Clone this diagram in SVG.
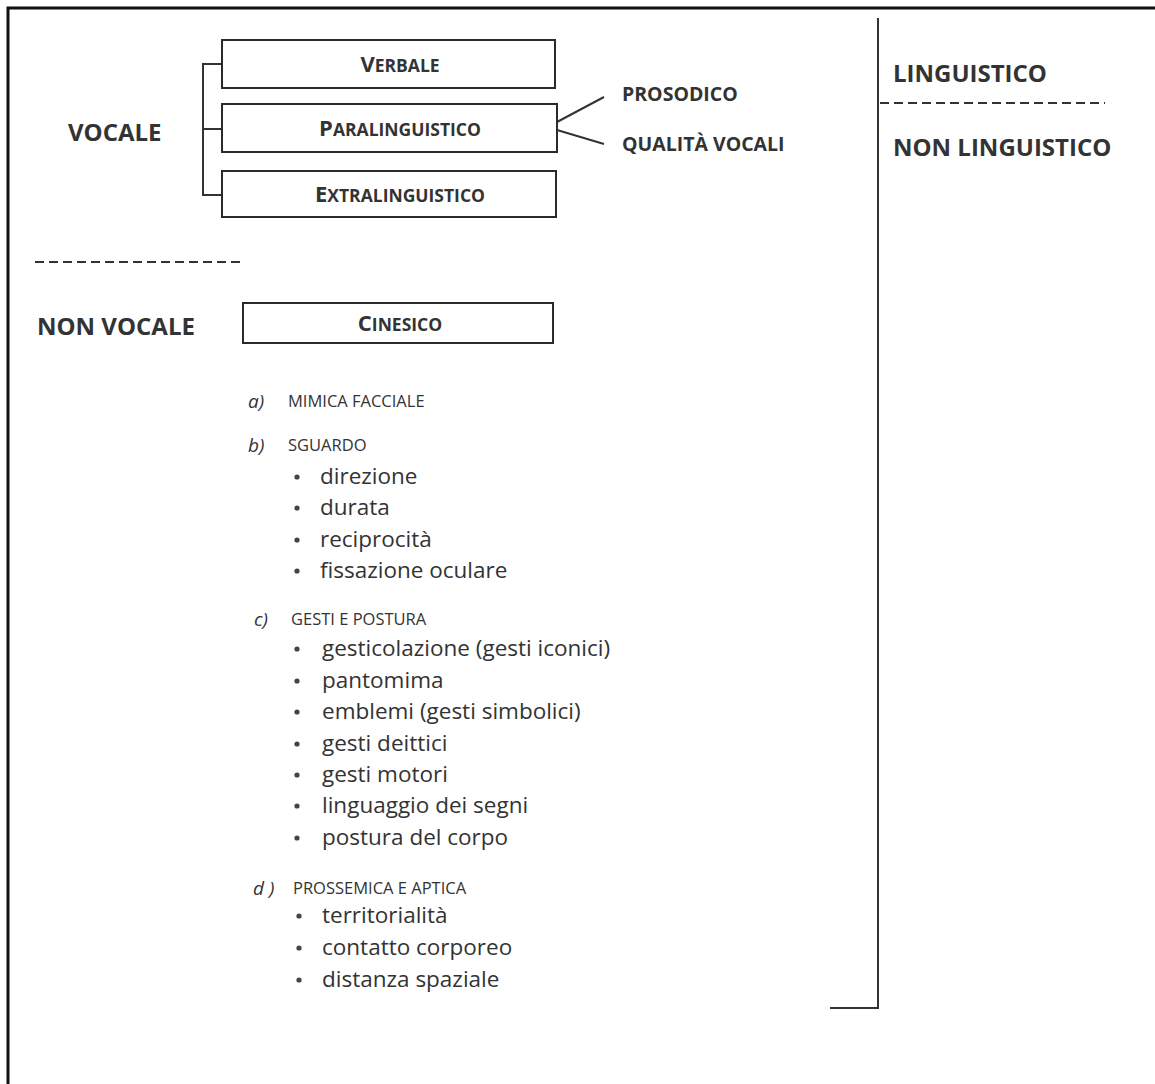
<svg xmlns="http://www.w3.org/2000/svg" width="1155" height="1084" viewBox="0 0 1155 1084">
<style>
.box{fill:#fff;stroke:#2a2a2a;stroke-width:2}
.ln{fill:none;stroke:#333;stroke-width:2}
.dash{fill:none;stroke:#333;stroke-width:2;stroke-dasharray:9 5}
.h{font-family:"Open Sans","Noto Sans",sans-serif;font-weight:700;fill:#333;font-size:24px}
.h2{font-family:"Open Sans","Noto Sans",sans-serif;font-weight:700;fill:#333;font-size:19.5px}
.sc{font-family:"Open Sans","Noto Sans",sans-serif;font-weight:700;fill:#333;font-size:17.5px;text-anchor:middle}
.sc .big{font-size:22px}
.lab{font-family:"Open Sans","Noto Sans",sans-serif;font-style:italic;fill:#333;font-size:19px}
.cap{font-family:"Open Sans","Noto Sans",sans-serif;fill:#333;font-size:16.5px}
.it{font-family:"Open Sans","Noto Sans",sans-serif;fill:#333;font-size:22.5px}
.dot{fill:#444}
</style>
<rect x="0" y="0" width="1155" height="1084" fill="#fff"/>
<path d="M8 1084 V8 H1155" fill="none" stroke="#111" stroke-width="3"/>

<g id="connectors">
  <path class="ln" d="M222 64 H203 V195 H222 M203 129 H222"/>
  <path class="ln" d="M557 122 L604 97 M557 130 L604 144"/>
  <path class="ln" d="M878 18 V1008 H830"/>
  <path class="dash" d="M880 103 H1105"/>
  <path class="dash" d="M35 262 H245"/>
</g>

<g id="vocale"><text class="h" x="68" y="141">VOCALE</text></g>
<g id="nonvocale"><text class="h" x="37" y="335">NON VOCALE</text></g>
<g id="linguistico"><text class="h" x="893" y="82">LINGUISTICO</text></g>
<g id="nonlinguistico"><text class="h" x="893" y="156">NON LINGUISTICO</text></g>

<g id="verbale"><rect class="box" x="222" y="40" width="333" height="48"/>
<text class="sc" x="400" y="72"><tspan class="big">V</tspan>ERBALE</text></g>
<g id="paralinguistico"><rect class="box" x="222" y="104" width="335" height="48"/>
<text class="sc" x="400" y="136"><tspan class="big">P</tspan>ARALINGUISTICO</text></g>
<g id="extralinguistico"><rect class="box" x="222" y="171" width="334" height="46"/>
<text class="sc" x="400" y="202"><tspan class="big">E</tspan>XTRALINGUISTICO</text></g>
<g id="cinesico"><rect class="box" x="243" y="303" width="310" height="40"/>
<text class="sc" x="400" y="331"><tspan class="big">C</tspan>INESICO</text></g>

<g id="prosodico"><text class="h2" x="622" y="101">PROSODICO</text></g>
<g id="qualita"><text class="h2" x="622" y="151">QUALITÀ VOCALI</text></g>

<g id="list">
  <text class="lab" x="248" y="408">a)</text>
  <text class="cap" x="288" y="407">MIMICA FACCIALE</text>
  <text class="lab" x="248" y="452">b)</text>
  <text class="cap" x="288" y="451">SGUARDO</text>
  <g class="dot">
    <circle cx="297" cy="477" r="2.6"/><circle cx="297" cy="508" r="2.6"/><circle cx="297" cy="540" r="2.6"/><circle cx="297" cy="571" r="2.6"/>
    <circle cx="297" cy="649" r="2.6"/><circle cx="297" cy="681" r="2.6"/><circle cx="297" cy="712" r="2.6"/><circle cx="297" cy="744" r="2.6"/><circle cx="297" cy="775" r="2.6"/><circle cx="297" cy="806" r="2.6"/><circle cx="297" cy="838" r="2.6"/>
    <circle cx="299" cy="916" r="2.6"/><circle cx="299" cy="948" r="2.6"/><circle cx="299" cy="980" r="2.6"/>
  </g>
  <text class="it" x="320" y="484">direzione</text>
  <text class="it" x="320" y="515">durata</text>
  <text class="it" x="320" y="547">reciprocità</text>
  <text class="it" x="320" y="578">fissazione oculare</text>
  <text class="lab" x="254" y="626">c)</text>
  <text class="cap" x="291" y="625">GESTI E POSTURA</text>
  <text class="it" x="322" y="656">gesticolazione (gesti iconici)</text>
  <text class="it" x="322" y="688">pantomima</text>
  <text class="it" x="322" y="719">emblemi (gesti simbolici)</text>
  <text class="it" x="322" y="751">gesti deittici</text>
  <text class="it" x="322" y="782">gesti motori</text>
  <text class="it" x="322" y="813">linguaggio dei segni</text>
  <text class="it" x="322" y="845">postura del corpo</text>
  <text class="lab" x="253" y="895">d )</text>
  <text class="cap" x="293" y="894">PROSSEMICA E APTICA</text>
  <text class="it" x="322" y="923">territorialità</text>
  <text class="it" x="322" y="955">contatto corporeo</text>
  <text class="it" x="322" y="987">distanza spaziale</text>
</g>
</svg>
